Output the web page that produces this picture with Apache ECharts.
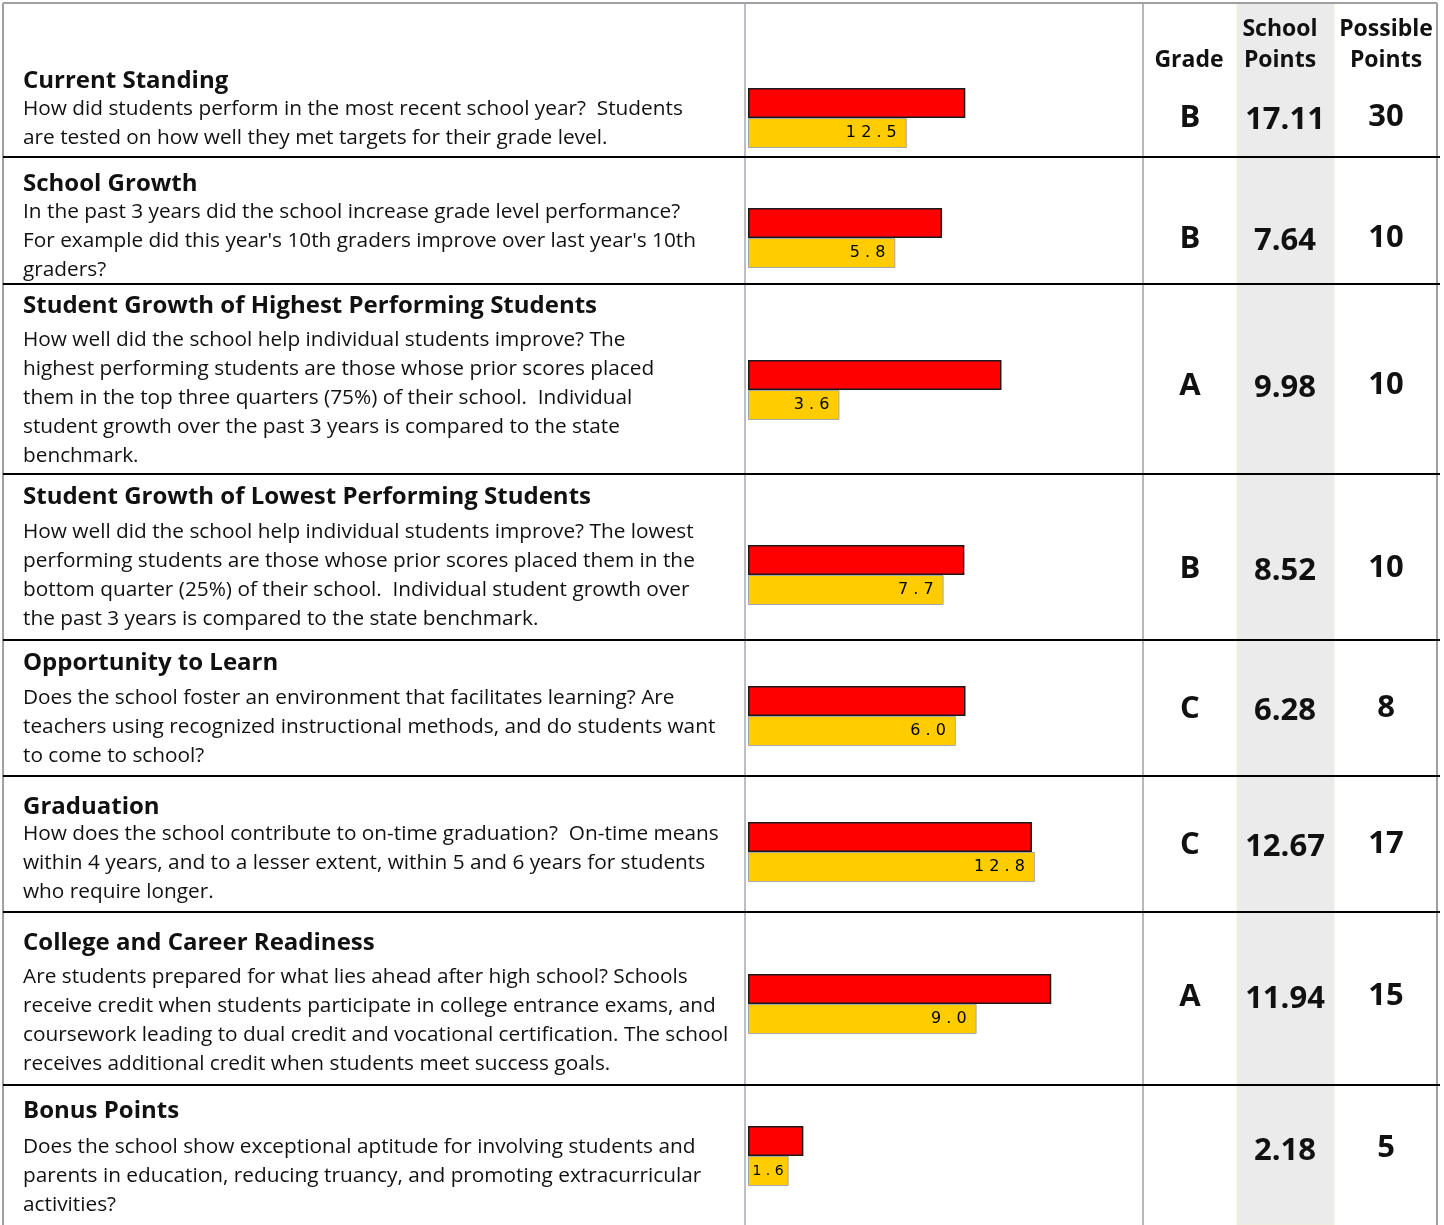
<!DOCTYPE html>
<html>
<head>
<meta charset="utf-8">
<title>School report card</title>
<script src="https://cdn.jsdelivr.net/npm/echarts@6/dist/echarts.min.js"></script>
<style>
  html, body { margin: 0; padding: 0; background: #fff; }
  #main { width: 1444px; height: 1225px; }
</style>
</head>
<body>
<div id="main"></div>
<script>
// data
const titles = [
  'Current Standing',
  'School Growth',
  'Student Growth of Highest Performing Students',
  'Student Growth of Lowest Performing Students',
  'Opportunity to Learn',
  'Graduation',
  'College and Career Readiness',
  'Bonus Points'
]
const descriptions = [
  'How did students perform in the most recent school year?  Students\nare tested on how well they met targets for their grade level.',
  'In the past 3 years did the school increase grade level performance?\nFor example did this year\'s 10th graders improve over last year\'s 10th\ngraders?',
  'How well did the school help individual students improve? The\nhighest performing students are those whose prior scores placed\nthem in the top three quarters (75%) of their school.  Individual\nstudent growth over the past 3 years is compared to the state\nbenchmark.',
  'How well did the school help individual students improve? The lowest\nperforming students are those whose prior scores placed them in the\nbottom quarter (25%) of their school.  Individual student growth over\nthe past 3 years is compared to the state benchmark.',
  'Does the school foster an environment that facilitates learning? Are\nteachers using recognized instructional methods, and do students want\nto come to school?',
  'How does the school contribute to on-time graduation?  On-time means\nwithin 4 years, and to a lesser extent, within 5 and 6 years for students\nwho require longer.',
  'Are students prepared for what lies ahead after high school? Schools\nreceive credit when students participate in college entrance exams, and\ncoursework leading to dual credit and vocational certification. The school\nreceives additional credit when students meet success goals.',
  'Does the school show exceptional aptitude for involving students and\nparents in education, reducing truancy, and promoting extracurricular\nactivities?'
]
const grades = ['B', 'B', 'A', 'B', 'C', 'C', 'A', '']
const schoolPoints = [17.11, 7.64, 9.98, 8.52, 6.28, 12.67, 11.94, 2.18]
const possiblePoints = [30, 10, 10, 10, 8, 17, 15, 5]
const comparePoints = [12.5, 5.8, 3.6, 7.7, 6.0, 12.8, 9.0, 1.6]
const axisMax = [30, 15, 15, 15, 11, 17, 15, 15]

// layout (pixel positions of the table)
const rowLines = [157, 284, 474, 640, 776, 912, 1085]
const titleY = [81, 184, 306, 497, 663, 807, 943, 1111]
const descY = [109, 212, 340, 532, 698, 834, 977, 1147]
const valueY = [118, 239, 386, 569, 709, 845, 997, 1149]
const barTops = [88, 208, 360, 545, 686, 822, 974, 1126]

const FONT = '"Open Sans", "Noto Sans", sans-serif'
const TXT = '#111'

const chart = echarts.init(document.getElementById('main'))

const grids = [], xAxes = [], yAxes = [], series = []
barTops.forEach((top, i) => {
  grids.push({ left: 748, width: 381, top: top - 0.5, height: 61 })
  xAxes.push({ type: 'value', gridIndex: i, min: 0, max: axisMax[i], show: false })
  yAxes.push({ type: 'category', gridIndex: i, data: [titles[i]], show: false, inverse: true })
  series.push({
    type: 'bar',
    name: 'School Points',
    xAxisIndex: i,
    yAxisIndex: i,
    barWidth: 30,
    barGap: '0%',
    itemStyle: { color: '#ff0000', borderColor: '#1a1a1a', borderWidth: 1.5 },
    data: [schoolPoints[i]],
    silent: true
  })
  // short bars get a smaller label so it stays inside
  const v = comparePoints[i]
  const item = v < 2 ? { value: v, label: { fontSize: 14, distance: 5 } } : v
  series.push({
    type: 'bar',
    name: 'Compare',
    xAxisIndex: i,
    yAxisIndex: i,
    barWidth: 30,
    barGap: '0%',
    itemStyle: { color: '#ffcc00', borderColor: '#a6a6a6', borderWidth: 1 },
    label: {
      show: true,
      position: 'insideRight',
      distance: 10,
      fontFamily: 'DejaVu Sans',
      fontSize: 16,
      color: '#000',
      formatter: p => p.value.toFixed(1).split('').join(' ')
    },
    data: [item],
    silent: true
  })
})

const graphics = []
// shaded school points column
graphics.push({
  type: 'rect', z: -10,
  shape: { x: 1237, y: 3, width: 97, height: 1222 },
  style: { fill: '#ebebeb', stroke: '#f3efd6', lineWidth: 1 }
})
// outer and column borders
const gray = '#a0a0a0'
graphics.push({ type: 'line', shape: { x1: 3, y1: 3, x2: 1437, y2: 3 }, style: { stroke: gray, lineWidth: 2 } })
graphics.push({ type: 'line', shape: { x1: 3, y1: 3, x2: 3, y2: 1225 }, style: { stroke: gray, lineWidth: 2 } })
graphics.push({ type: 'line', shape: { x1: 1437, y1: 3, x2: 1437, y2: 1225 }, style: { stroke: gray, lineWidth: 2 } })
graphics.push({ type: 'line', shape: { x1: 745, y1: 3, x2: 745, y2: 1225 }, style: { stroke: '#a8a8b4', lineWidth: 1.5 } })
graphics.push({ type: 'line', shape: { x1: 1143, y1: 3, x2: 1143, y2: 1225 }, style: { stroke: gray, lineWidth: 1.5 } })
rowLines.forEach(y => {
  graphics.push({ type: 'line', shape: { x1: 3, y1: y, x2: 1440, y2: y }, style: { stroke: '#000', lineWidth: 2 } })
})

// header
const headFont = 'bold 23px ' + FONT
const head = [
  ['Grade', 1189, 60],
  ['School', 1280, 29], ['Points', 1280, 60],
  ['Possible', 1386, 29], ['Points', 1386, 60]
]
head.forEach(h => {
  graphics.push({
    type: 'text',
    style: { text: h[0], x: h[1], y: h[2], font: headFont, fill: TXT, align: 'center', verticalAlign: 'middle' }
  })
})

titles.forEach((t, i) => {
  graphics.push({
    type: 'text',
    style: { text: t, x: 23, y: titleY[i], font: 'bold 24px ' + FONT, fill: TXT, align: 'left', verticalAlign: 'middle' }
  })
  descriptions[i].split('\n').forEach((line, k) => {
    graphics.push({
      type: 'text',
      style: { text: line, x: 23, y: descY[i] + k * 29.1, font: '20.8px ' + FONT, fill: TXT, align: 'left', verticalAlign: 'middle' }
    })
  })
  const vf = 'bold 31px ' + FONT
  graphics.push({
    type: 'text',
    style: { text: grades[i], x: 1190, y: valueY[i], font: vf, fill: TXT, align: 'center', verticalAlign: 'middle' }
  })
  graphics.push({
    type: 'text',
    style: { text: schoolPoints[i].toFixed(2), x: 1285, y: valueY[i] + 2, font: vf, fill: TXT, align: 'center', verticalAlign: 'middle' }
  })
  graphics.push({
    type: 'text',
    style: { text: String(possiblePoints[i]), x: 1386, y: valueY[i] - 1, font: vf, fill: TXT, align: 'center', verticalAlign: 'middle' }
  })
})

const option = {
  animation: false,
  grid: grids,
  xAxis: xAxes,
  yAxis: yAxes,
  series: series,
  graphic: graphics
}
chart.setOption(option)
</script>
</body>
</html>
